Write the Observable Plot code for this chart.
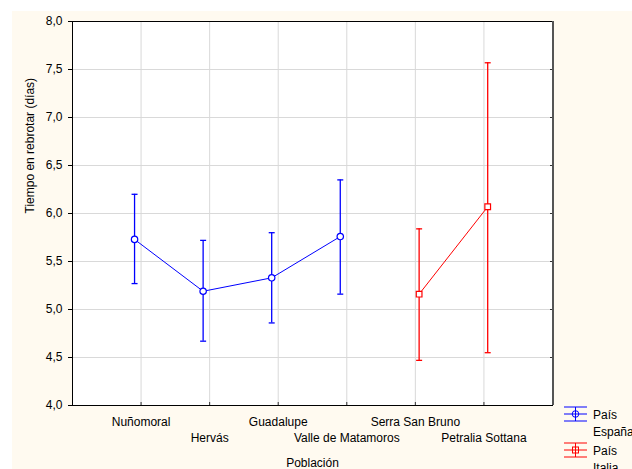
<!DOCTYPE html>
<html><head><meta charset="utf-8">
<script src="https://cdn.jsdelivr.net/npm/d3@7"></script>
<script src="https://cdn.jsdelivr.net/npm/@observablehq/plot@0.6"></script>
<style>
body{margin:0;background:#fff;font-family:"Liberation Sans",Arial,sans-serif;}
#wrap{position:relative;width:632px;height:469px;overflow:hidden;}
#bg{position:absolute;left:12px;top:11px;right:0;bottom:0;background:#fffaf0;}
#chart{position:absolute;left:0;top:0;}
#legend{position:absolute;left:0;top:0;}
</style></head><body>
<div id="wrap"><div id="bg"></div><div id="chart"></div><svg id="legend" width="632" height="469"></svg></div>
<script>
const categories = ["Nuñomoral", "Hervás", "Guadalupe", "Valle de Matamoros", "Serra San Bruno", "Petralia Sottana"];
const pais = ["España", "España", "España", "España", "Italia", "Italia"];
const means = [5.73, 5.19, 5.33, 5.76, 5.16, 6.07];
const lower = [5.27, 4.67, 4.86, 5.16, 4.47, 4.55];
const upper = [6.20, 5.72, 5.80, 6.35, 5.84, 7.57];
const yTicks = [4.0, 4.5, 5.0, 5.5, 6.0, 6.5, 7.0, 7.5, 8.0];
const series = ["España", "Italia"];
const seriesColors = ["#0000ff", "#ff0000"];
const seriesSymbols = ["circle", "square"];
const xLabel = "Población";
const yLabel = "Tiempo en rebrotar (días)";
const legendTitle = "País";

const offsets = {"España": -0.095, "Italia": 0.055};
const rows = categories.map((c, i) => ({cat: c, idx: i + 1, pais: pais[i], mean: means[i], lo: lower[i], hi: upper[i]}));
const xPos = d => d.idx + offsets[d.pais];
const catTicks = rows.map(d => d.idx);
const capSymbol = {draw(ctx, size) { const w = Math.sqrt(size / Math.PI); ctx.moveTo(-w, 0); ctx.lineTo(w, 0); }};
const fmt = v => v.toFixed(1).replace(".", ",");

const chart = Plot.plot({
  width: 632, height: 469,
  marginLeft: 72, marginRight: 80, marginTop: 21, marginBottom: 64,
  style: {fontFamily: "Liberation Sans, Arial, sans-serif", fontSize: "12px", background: "transparent", color: "black"},
  x: {domain: [0, 7], label: null},
  y: {domain: [4, 8], label: null},
  color: {domain: series, range: seriesColors},
  symbol: {domain: series, range: seriesSymbols},
  marks: [
    Plot.frame({fill: "white", stroke: null}),
    Plot.gridY(yTicks, {stroke: "#d9d9d9", strokeOpacity: 1}),
    Plot.gridX(catTicks, {stroke: "#d9d9d9", strokeOpacity: 1}),
    Plot.axisY(yTicks, {tickSize: 4, tickPadding: 6, tickFormat: fmt, fontSize: 12}),
    Plot.axisY(yTicks, {anchor: "right", tickSize: 3, dx: -3, text: null, stroke: "#333"}),
    Plot.axisX(catTicks, {tickSize: 3, dy: -3, text: null, stroke: "#333"}),
    Plot.axisX(catTicks.filter(i => i % 2 === 1), {tickSize: 0, tickPadding: 12, tickFormat: i => categories[i - 1], fontSize: 12}),
    Plot.axisX(catTicks.filter(i => i % 2 === 0), {tickSize: 0, tickPadding: 28, tickFormat: i => categories[i - 1], fontSize: 12}),
    Plot.ruleX(rows, {x: xPos, y1: "lo", y2: "hi", stroke: "pais", strokeWidth: 1.3}),
    Plot.dot(rows, {x: xPos, y: "lo", symbol: capSymbol, r: 3, stroke: "pais", strokeWidth: 1.3}),
    Plot.dot(rows, {x: xPos, y: "hi", symbol: capSymbol, r: 3, stroke: "pais", strokeWidth: 1.3}),
    Plot.line(rows, {x: xPos, y: "mean", z: "pais", stroke: "pais", strokeWidth: 1}),
    Plot.dot(rows, {x: xPos, y: "mean", symbol: "pais", r: 3.2, stroke: "pais", fill: "white", strokeWidth: 1.2}),
    Plot.frame({stroke: "black"}),
    Plot.ruleX([7], {stroke: "#555", strokeWidth: 2, dx: 0.5}),
    Plot.text([yLabel], {frameAnchor: "left", dx: -42, rotate: -90, fontSize: 12}),
    Plot.text([xLabel], {frameAnchor: "bottom", dy: 61, fontSize: 12})
  ]
});
document.getElementById("chart").appendChild(chart);

// legend
const lg = d3.select("#legend");
const lx = 564, ly0 = 414, lstep = 36;
series.forEach((s, i) => {
  const cy = ly0 + i * lstep, col = seriesColors[i];
  const g = lg.append("g").attr("stroke", col).attr("fill", "none");
  [-7, 0, 7].forEach(o => g.append("line").attr("x1", lx).attr("x2", lx + 23).attr("y1", cy + o).attr("y2", cy + o));
  g.append("line").attr("x1", lx + 11.5).attr("x2", lx + 11.5).attr("y1", cy - 7).attr("y2", cy + 7);
  if (seriesSymbols[i] === "circle") g.append("circle").attr("cx", lx + 11.5).attr("cy", cy).attr("r", 3.3);
  else g.append("rect").attr("x", lx + 8.5).attr("y", cy - 3).attr("width", 6).attr("height", 6);
  lg.append("text").attr("x", 593).attr("y", cy + 5).attr("font-size", 12).attr("font-family", "Liberation Sans, Arial").text(legendTitle);
  lg.append("text").attr("x", 593).attr("y", cy + 22).attr("font-size", 12).attr("font-family", "Liberation Sans, Arial").text(s);
});
</script>
</body></html>
